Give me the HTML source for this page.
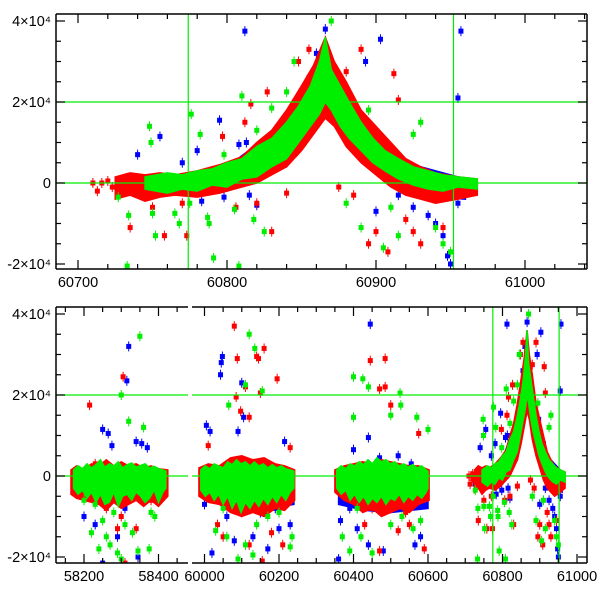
<!DOCTYPE html>
<html><head><meta charset="utf-8"><style>
html,body{margin:0;padding:0;background:#fff;}
svg{display:block;font-family:"Liberation Sans",sans-serif;}
</style></head><body>
<svg id="chart" width="600" height="600" viewBox="0 0 600 600" xmlns="http://www.w3.org/2000/svg">
<defs>
<clipPath id="clipTop"><rect x="56" y="14" width="531" height="255"/></clipPath>
<clipPath id="clipBot"><rect x="56" y="307" width="531" height="256"/></clipPath>
</defs>
<g id="top"></g>
<g id="bot"></g>
</svg>
<script>
// ---- data ----
const yTicks=[-20000,0,20000,40000];
const yTickLabels=["-2\u00d710\u2074","0","2\u00d710\u2074","4\u00d710\u2074"];
const topXTicks=[60700,60800,60900,61000];
const botXTicks=[58200,58400,60000,60200,60400,60600,60800,61000];
const vLines=[60774,60952];
const hLines=[0,20000];
// dense band envelopes [mjd, low, high]
const greenBand1=[[58172,-3000,1500],[58184,-4500,2500],[58196,-3500,1800],[58208,-5500,3000],[58220,-4000,2000],[58232,-6500,2800],[58244,-4500,4000],[58256,-7000,2200],[58268,-6500,3000],[58280,-4000,2500],[58292,-7500,3500],[58304,-5000,2000],[58316,-4500,2800],[58328,-6000,3200],[58340,-4000,2200],[58352,-5000,2600],[58364,-6500,3000],[58376,-5500,2000],[58388,-3500,2400],[58400,-6500,1800],[58412,-4000,1500],[58420,-3000,1200]];
const redBand1=[[58165,-4500,1500],[58180,-5500,2500],[58200,-6000,1500],[58220,-6500,3000],[58240,-7000,2500],[58260,-8500,4000],[58280,-6500,2500],[58300,-8000,3500],[58320,-7000,2500],[58340,-6000,3000],[58360,-7500,2000],[58380,-6000,2500],[58400,-7500,1800],[58425,-5000,1500]];
const blueBand1=[[58180,-5000,500],[58250,-6500,1000],[58320,-6000,1000],[58400,-5500,500]];
const greenBand2=[[59990,-3500,1500],[60002,-5000,2500],[60014,-4000,1800],[60026,-6000,3000],[60038,-4500,2500],[60050,-7000,2000],[60062,-5000,3500],[60074,-8000,2800],[60086,-6000,4000],[60098,-9000,3000],[60110,-6500,3500],[60122,-8000,2500],[60134,-6000,3500],[60146,-7500,2500],[60158,-5500,3000],[60170,-7000,2000],[60182,-5000,2800],[60194,-6500,2000],[60206,-4500,2500],[60218,-6000,1800],[60230,-4000,1500],[60240,-3000,1200]];
const redBand2=[[59985,-5000,2000],[60010,-6500,3000],[60040,-7000,2500],[60070,-9000,4500],[60100,-10000,5000],[60130,-9000,4000],[60160,-10000,4500],[60190,-8000,3000],[60215,-8500,2500],[60242,-6000,1500]];
const blueBand2=[[60000,-6000,500],[60080,-8000,1500],[60150,-8500,1500],[60240,-7000,500]];
const greenBand3=[[60355,-3000,1500],[60367,-4500,2500],[60379,-3500,1800],[60391,-6000,3000],[60403,-4500,2500],[60415,-6500,3500],[60427,-5000,2800],[60439,-7000,4000],[60451,-5500,3000],[60463,-6500,4500],[60475,-5000,3500],[60487,-7000,4000],[60499,-5500,3000],[60511,-6000,3500],[60523,-4500,2500],[60535,-6500,3000],[60547,-5000,2200],[60559,-6000,2800],[60571,-4500,2000],[60583,-5500,2500],[60595,-4000,1500],[60600,-3000,1200]];
const redBand3=[[60350,-4000,1500],[60375,-6000,2500],[60400,-7000,3000],[60425,-9000,3500],[60450,-8000,3000],[60475,-10000,4000],[60500,-9000,3500],[60525,-8000,3000],[60550,-9000,2500],[60575,-7000,2500],[60603,-6000,1500]];
const blueBand3=[[60360,-7000,500],[60430,-8500,1000],[60500,-9000,1500],[60600,-8000,500]];
const greenBand4=[[60745,-1500,1500],[60760,-2500,2500],[60770,-1500,2000],[60780,-2000,3000],[60790,-500,3500],[60800,-1000,5000],[60810,1000,6000],[60820,1500,9000],[60830,4000,11000],[60840,6000,15000],[60848,10000,19000],[60856,14000,24000],[60862,17000,30000],[60866,20000,36000],[60870,18000,28000],[60876,14000,24000],[60882,11000,20000],[60890,8000,15000],[60898,5000,11000],[60906,3000,8000],[60915,1000,6000],[60925,-500,4000],[60935,-1500,3000],[60945,-2000,2000],[60955,-1000,1500],[60968,-1500,1000]];
const redBand4=[[60725,-4000,1500],[60735,-3000,2500],[60745,-4500,2000],[60755,-3500,2500],[60765,-3000,2000],[60780,-3500,3000],[60795,-2500,4500],[60810,-1000,6500],[60820,0,10000],[60830,2000,13000],[60840,4000,18000],[60850,8000,24000],[60858,12000,29000],[60866,16000,36000],[60872,14000,30000],[60880,9000,25000],[60890,5000,18000],[60900,2000,14000],[60910,-1000,10000],[60920,-3000,6000],[60930,-4000,4000],[60940,-5000,2500],[60955,-4000,1500],[60968,-3000,1000]];
const blueBand4=[[60760,-2000,1000],[60800,-2000,4000],[60840,4000,15000],[60866,18000,34000],[60890,6000,16000],[60920,-3000,5000],[60960,-4000,1000]];
// outlier points [mjd, flux]
const bluePts=[[60812,37500],[60795,15500],[60755,11500],[60740,7000],[60808,9500],[60813,10000],[60770,5000],[60780,8000],[60787,-1000],[60798,-3500],[60783,-4500],[60727,-2000],[60815,-3000],[60820,-5500],[60850,19000],[60855,26000],[60860,32000],[60866,38000],[60880,15000],[60893,30000],[60903,35500],[60897,14000],[60910,8000],[60915,-3000],[60925,-6000],[60935,-8000],[60940,-10000],[60945,-13000],[60948,-18000],[60950,-20000],[60955,-5000],[60955,21000],[60957,37500],[60900,-7000],
[58320,32000],[58315,23500],[58250,11500],[58265,10500],[58340,8500],[58355,8000],[58370,7000],[58275,7500],[58200,-10000],[58230,-12000],[58345,-20000],[58250,-21500],[58290,-15000],[58310,-8000],
[60005,12500],[60015,11000],[60045,28000],[60043,25000],[60048,29500],[60100,23000],[60105,14500],[60090,11000],[60000,-7000],[60020,-19000],[60080,-16000],[60130,-15000],[60150,-9000],[60170,-18000],[60200,-13000],[60230,-12000],[60215,8500],[60060,-10000],[60190,-8000],
[60445,37500],[60440,9500],[60400,6500],[60470,4500],[60520,5000],[60555,3000],[60365,-11000],[60390,-8000],[60410,-13000],[60440,-17000],[60480,-18500],[60565,-17000],[60580,-15000],[60360,-20500],[60500,-8000]];
const redPts=[[60710,0],[60713,-2000],[60716,0],[60720,500],[60723,-1000],[60735,-11000],[60758,-13000],[60750,-6000],[60770,-5000],[60773,-13000],[60797,11500],[60806,-6000],[60812,15000],[60816,19500],[60820,-5000],[60827,22500],[60830,-12000],[60840,-2500],[60855,33000],[60848,30000],[60870,28000],[60875,-1000],[60885,-3000],[60890,33000],[60895,-15000],[60900,-12000],[60908,-17000],[60915,20500],[60920,-9000],[60925,-12000],[60930,-15000],[60945,-11000],[60912,27000],[60880,27500],
[58215,17500],[58305,24500],[58230,3000],[58320,-4000],[58300,-10000],[58340,-13000],[58310,-21500],[58260,-8000],[58380,-6000],[58290,-13000],
[60010,7500],[60080,37000],[60088,29000],[60085,19500],[60097,16000],[60110,22000],[60120,14500],[60140,29500],[60145,29000],[60160,31500],[60150,20500],[60195,24000],[60230,7000],[60035,-12000],[60050,-15000],[60120,-17000],[60155,-21000],[60180,-14000],[60210,-17000],[60100,-9000],
[60445,28500],[60485,29000],[60470,21500],[60485,22000],[60500,17500],[60575,10500],[60590,-18000],[60470,-18500],[60430,-12000],[60520,-13500],[60550,-12000],[60450,-8000],[60540,-9000]];
const greenPts=[[60727,-3500],[60733,-20500],[60734,-8000],[60748,14000],[60749,10000],[60750,-7500],[60752,-13000],[60765,-7500],[60768,-10000],[60776,17000],[60782,12000],[60775,-5000],[60788,-10000],[60787,-8500],[60791,-18500],[60798,7000],[60805,-6500],[60810,21500],[60808,-20500],[60820,13000],[60818,-9000],[60825,-12000],[60830,18500],[60840,22500],[60845,30000],[60870,40000],[60875,21000],[60880,-5000],[60890,-11000],[60895,18000],[60905,-16000],[60910,-6000],[60925,12000],[60930,15000],[60940,-11000],[60945,-15000],[60950,-17000],[60915,-13000],
[58350,34500],[58300,20000],[58320,13500],[58360,12000],[58200,-6000],[58220,-14000],[58240,-18000],[58260,-15000],[58270,-17000],[58290,-19000],[58300,-20500],[58330,-14000],[58345,-18500],[58375,-18000],[58380,-9000],[58250,-11000],[58280,-9000],[58230,-7000],[58390,-10000],[58310,-12000],
[60065,17500],[60120,35000],[60135,31500],[60155,21000],[60110,22500],[60030,-13500],[60060,-15000],[60090,-20500],[60110,-17000],[60140,-12000],[60170,-10000],[60230,-17500],[60235,-15000],[60130,-19500],[60050,-8000],[60200,-9000],
[60400,24500],[60425,24000],[60440,22000],[60400,14500],[60500,15000],[60525,20500],[60527,17500],[60570,14500],[60600,11500],[60370,-15000],[60390,-18500],[60420,-15000],[60450,-19000],[60500,-12000],[60530,-10000],[60560,-13000],[60580,-11000],[60410,-8000]];

// ---- scales ----
const NS="http://www.w3.org/2000/svg";
function xTop(m){return 78+(m-60700)*1.49;}
function yTop(v){return 183-v*81/20000;}
function xBot(m){return m<59000?84+(m-58200)*0.3725:204.5+(m-60000)*0.3725;}
function yBot(v){return 476-v*81/20000;}
function mk(tag,attrs,parent){const e=document.createElementNS(NS,tag);for(const k in attrs)e.setAttribute(k,attrs[k]);parent.appendChild(e);return e;}

function drawPanel(g,xs,ys,x0,x1,y0,y1,clip,xTicks,minorStep,breakX){
  const plot=mk('g',{'clip-path':'url(#'+clip+')'},g);
  
  
  const bands=[[blueBand1,blueBand2,blueBand3,blueBand4,'#0000ff'],[redBand1,redBand2,redBand3,redBand4,'#ff0000'],[greenBand1,greenBand2,greenBand3,greenBand4,'#00ee00']];
  function drawPts(pts,col,name){
    pts.forEach(p=>{const x=xs(p[0]),y=ys(p[1]);
      const e=mk('line',{x1:x,x2:x,y1:y-5,y2:y+5,stroke:col,'stroke-width':1},plot);
      
      
      const r=mk('rect',{x:x-2.5,y:y-2.5,width:5,height:5,fill:col},plot);
      
      
    });
  }
  const ptsets=[[bluePts,'#0000ff','blue'],[redPts,'#ff0000','red'],[greenPts,'#00ee00','green']];
  for(let i=0;i<3;i++){
    const b=bands[i],col=b[4];
    for(let s=0;s<4;s++){
      const arr=b[s];
      let d='M'+arr.map(p=>xs(p[0])+','+ys(p[2])).join('L')+'L'+arr.slice().reverse().map(p=>xs(p[0])+','+ys(p[1])).join('L')+'Z';
      const pa=mk('path',{d:d,fill:col,stroke:col,'stroke-width':1.5},plot);
      
      
    }
    drawPts(ptsets[i][0],ptsets[i][1],ptsets[i][2]);
  }
  hLines.forEach(v=>{const y=ys(v);
    if(breakX){mk('line',{x1:x0,x2:breakX[0],y1:y,y2:y,stroke:'#00ee00','stroke-width':1.2},g);mk('line',{x1:breakX[1],x2:x1,y1:y,y2:y,stroke:'#00ee00','stroke-width':1.2},g);}
    else{const l=mk('line',{x1:x0,x2:x1,y1:y,y2:y,stroke:'#00ee00','stroke-width':1.2},g);}
  });
  vLines.forEach(m=>{const x=xs(m);const l=mk('line',{x1:x,x2:x,y1:y0,y2:y1,stroke:'#00ee00','stroke-width':1.2},g);
    
    });
  const fs={stroke:'#000','stroke-width':1.5,fill:'none'};
  if(breakX){
    [[x0,breakX[0]],[breakX[1],x1]].forEach(s=>{mk('line',Object.assign({x1:s[0],x2:s[1],y1:y0,y2:y0},fs),g);mk('line',Object.assign({x1:s[0],x2:s[1],y1:y1,y2:y1},fs),g);});
  } else {mk('line',Object.assign({x1:x0,x2:x1,y1:y0,y2:y0},fs),g);mk('line',Object.assign({x1:x0,x2:x1,y1:y1,y2:y1},fs),g);}
  mk('line',Object.assign({x1:x0,x2:x0,y1:y0,y2:y1},fs),g);
  mk('line',Object.assign({x1:x1,x2:x1,y1:y0,y2:y1},fs),g);
  for(let v=-20000;v<=40000;v+=5000){const y=ys(v);if(y<y0||y>y1)continue;const L=(v%20000===0)?9:5;
    mk('line',{x1:x0,x2:x0+L,y1:y,y2:y,stroke:'#000','stroke-width':1.2},g);
    mk('line',{x1:x1,x2:x1-L,y1:y,y2:y,stroke:'#000','stroke-width':1.2},g);}
  yTicks.forEach((v,i)=>{const t=mk('text',{x:51,y:ys(v)+5,'text-anchor':'end','font-size':14.5},g);t.textContent=yTickLabels[i];
    
    });
  const segs=breakX?[[58000,58700],[59800,61100]]:[[60600,61100]];
  segs.forEach(sg=>{for(let m=sg[0];m<=sg[1];m+=minorStep){const x=xs(m);if(x<x0||x>x1)continue;if(breakX&&((m<59000&&x>breakX[0])||(m>59000&&x<breakX[1])))continue;
    const L=xTicks.indexOf(m)>=0?9:5;
    mk('line',{x1:x,x2:x,y1:y1,y2:y1-L,stroke:'#000','stroke-width':1.2},g);
    mk('line',{x1:x,x2:x,y1:y0,y2:y0+L,stroke:'#000','stroke-width':1.2},g);}});
  xTicks.forEach(m=>{const t=mk('text',{x:xs(m),y:y1+18,'text-anchor':'middle','font-size':14.5},g);t.textContent=String(m);
    
    });
}
drawPanel(document.getElementById('top'),xTop,yTop,56,587,14,269,'clipTop',topXTicks,20,null);
drawPanel(document.getElementById('bot'),xBot,yBot,56,587,307,563,'clipBot',botXTicks,50,[188,192]);
</script>
</body></html>
